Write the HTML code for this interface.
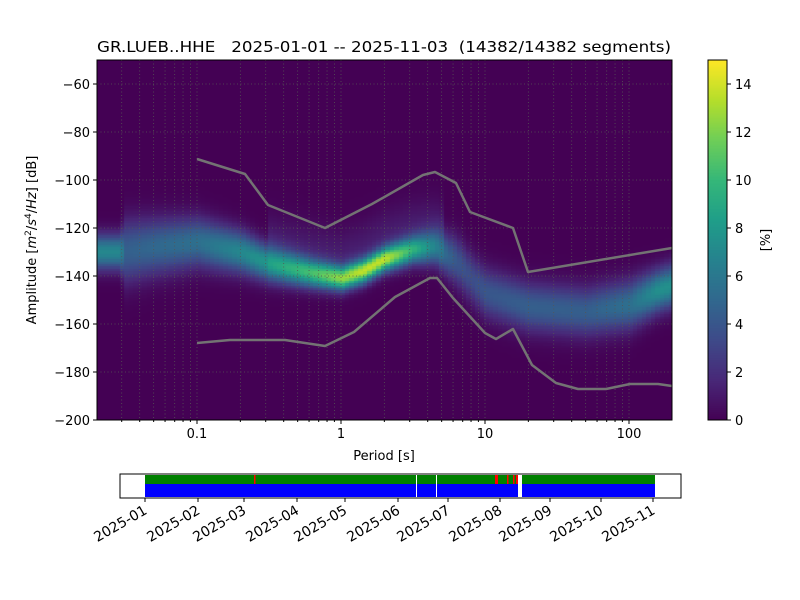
<!DOCTYPE html>
<html><head><meta charset="utf-8"><style>
html,body{margin:0;padding:0;background:#fff;width:800px;height:600px;overflow:hidden}
svg text{font-family:"DejaVu Sans","Liberation Sans",sans-serif;fill:#000}
#hm{position:absolute;left:97px;top:60px}
svg{position:absolute;left:0;top:0}
</style></head><body>
<canvas id="hm" width="575" height="360"></canvas>
<canvas id="cb" width="19" height="360" style="position:absolute;left:708px;top:60px"></canvas>
<svg width="800" height="600" id="s">
<g id="grid" stroke="#555" stroke-width="0.8" stroke-dasharray="1,2.5" fill="none"></g>
<polyline fill="none" stroke="#737373" stroke-width="2.5" stroke-linejoin="round" points="197,159 245,174 268,205 325,228 372,204 423,175 435,172 456,183 470,212 513,228 528,272 672,248"/>
<polyline fill="none" stroke="#737373" stroke-width="2.5" stroke-linejoin="round" points="197,343 230,340 285,340 325,346 354,332 395,297 430,278 437,278 453,298 485,333 496,339 513,329 532,365 556,383 578,389 606,389 630,384 658,384 672,386"/>
<rect x="97" y="60" width="575" height="360" fill="none" stroke="#000" stroke-width="1"/>
<rect x="708" y="60" width="19" height="360" fill="none" stroke="#000" stroke-width="1"/>
<g id="ax" font-size="13"></g>
<text x="384" y="52" font-size="15" text-anchor="middle" textLength="574" lengthAdjust="spacingAndGlyphs" style="white-space:pre">GR.LUEB..HHE   2025-01-01 -- 2025-11-03  (14382/14382 segments)</text>
<text x="384" y="460" font-size="13" text-anchor="middle">Period [s]</text>
<text transform="translate(36,240) rotate(-90)" font-size="13" text-anchor="middle">Amplitude [<tspan font-style="italic">m</tspan><tspan font-size="9" dy="-5">2</tspan><tspan dy="5">/</tspan><tspan font-style="italic">s</tspan><tspan font-size="9" dy="-5">4</tspan><tspan dy="5">/</tspan><tspan font-style="italic">Hz</tspan>] [dB]</text>
<text transform="translate(770,240) rotate(-90)" font-size="13" text-anchor="middle">[%]</text>
<rect x="120" y="474" width="561" height="24" fill="#fff" stroke="#000"/>
<rect x="145" y="475" width="510" height="9" fill="#008000"/>
<rect x="145" y="484" width="510" height="13" fill="#0000ff"/>
<g fill="#ff0000"><rect x="254" y="475" width="1.5" height="9"/><rect x="495" y="475" width="3" height="9"/><rect x="507" y="475" width="1.5" height="9"/><rect x="513" y="475" width="1.5" height="9"/><rect x="516" y="475" width="2" height="9"/></g>
<g fill="#fff"><rect x="416" y="475" width="1" height="22"/><rect x="436" y="475" width="1" height="22"/><rect x="518" y="475" width="4" height="22"/></g>
<g id="dt" font-size="14"></g>
</svg>
<script>
var NS="http://www.w3.org/2000/svg";
function X(p){return 341+144*Math.log10(p);}
function Y(d){return 420-(d+200)*2.4;}
function el(par,t,a,txt){var e=document.createElementNS(NS,t);for(var k in a)e.setAttribute(k,a[k]);if(txt!==undefined)e.textContent=txt;document.getElementById(par).appendChild(e);return e;}
for(var e=-2;e<=2;e++)for(var m=1;m<10;m++){var p=m*Math.pow(10,e);var x=X(p);if(x>97.5&&x<671.5)el("grid","line",{x1:x,y1:60,x2:x,y2:420});}
for(var d=-180;d<=-60;d+=20)el("grid","line",{x1:97,y1:Y(d),x2:672,y2:Y(d)});
[[0.1,"0.1"],[1,"1"],[10,"10"],[100,"100"]].forEach(function(t){var x=X(t[0]);el("ax","line",{x1:x,y1:420,x2:x,y2:424,stroke:"#000"});el("ax","text",{x:x,y:438,"text-anchor":"middle"},t[1]);});
for(var e=-2;e<=2;e++)for(var m=2;m<10;m++){var x=X(m*Math.pow(10,e));if(x>97&&x<672)el("ax","line",{x1:x,y1:420,x2:x,y2:422,stroke:"#000"});}
for(var d=-200;d<=-60;d+=20){var y=Y(d);el("ax","line",{x1:93,y1:y,x2:97,y2:y,stroke:"#000"});el("ax","text",{x:90,y:y+5,"text-anchor":"end"},"\u2212"+(-d));}
for(var v=0;v<=14;v+=2){var y=420-v*24;el("ax","line",{x1:727,y1:y,x2:731,y2:y,stroke:"#000"});el("ax","text",{x:735,y:y+5},""+v);}
var mons=["01","02","03","04","05","06","07","08","09","10","11"],mx=[145,198,244,297,345,398,448,500,550,601,653];
mons.forEach(function(m,i){el("dt","line",{x1:mx[i],y1:498,x2:mx[i],y2:502,stroke:"#000"});el("dt","text",{transform:"translate("+(mx[i]+3)+",513) rotate(-30)","text-anchor":"end"},"2025-"+m);});
var V=[[68,1,84],[72,40,120],[62,74,137],[49,104,142],[38,130,142],[31,158,137],[53,183,121],[110,206,88],[181,222,43],[253,231,37]];
function vir(t){t=Math.max(0,Math.min(1,t))*9;var i=Math.min(8,Math.floor(t)),f=t-i;return V[i].map(function(c,k){return Math.round(c+(V[i+1][k]-c)*f);});}
var K=[[-1.7,-130,5,7],[-1.53,-130,5,7],[-1.52,-130,9,4.5],[-1.3,-128,8,5],[-1,-126,7,5.5],[-0.7,-130,6,7],[-0.5,-135,5,8],[-0.2,-139,4,10],[0,-141,3.5,12],[0.15,-138,3.5,13],[0.3,-133,3.5,13],[0.5,-129,4,9],[0.65,-128,5,6],[0.8,-134,7,4],[0.9,-141,7,3.5],[1,-147,7,4],[1.3,-153,7,4.5],[1.7,-155,7,4.5],[2,-152,7,5.5],[2.2,-146,6,7.5],[2.3,-144,6,7.5]];
function interp(l){for(var i=0;i<K.length-1;i++){if(l<=K[i+1][0]){var f=(l-K[i][0])/(K[i+1][0]-K[i][0]);return K[i].map(function(v,k){return v+(K[i+1][k]-v)*f;});}}return K[K.length-1];}
var c=document.getElementById("hm").getContext("2d");
var img=c.createImageData(575,360),D=img.data;
var cw=4.5;
for(var px=0;px<575;px++){var ci=Math.floor(px/cw);var l=Math.log10(0.02)+(ci*cw+cw/2)/144;var k=interp(l);
 for(var y=0;y<360;y++){var db=Math.floor(-50-(y+0.5)/2.4)+0.5;var z=(db-k[1])/k[2];var v=k[3]*Math.exp(-z*z/2);
  if(l>-0.5&&l<0.7){var z2=(db-(k[1]+9))/8;v+=1.2*Math.exp(-z2*z2/2);}
  var col=vir(v/15);var o=(y*575+px)*4;D[o]=col[0];D[o+1]=col[1];D[o+2]=col[2];D[o+3]=255;}}
c.putImageData(img,0,0);
var cb=document.getElementById("cb").getContext("2d");
for(var y=0;y<360;y++){cb.fillStyle="rgb("+vir(1-y/360)+")";cb.fillRect(0,y,19,1);}
</script>
</body></html>
